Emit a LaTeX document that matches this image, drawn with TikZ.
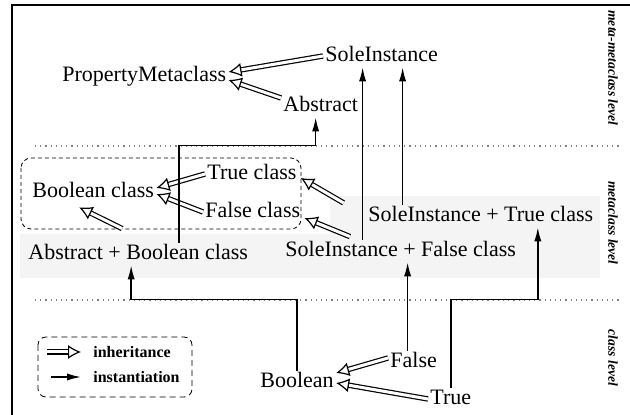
\documentclass[tikz,border=0pt]{standalone}
\usepackage{fontspec}
\setmainfont{Liberation Serif}
\usetikzlibrary{arrows.meta}

\begin{document}
\begin{tikzpicture}[x=0.5pt, y=-0.5pt,
		lbl/.style={inner sep=1pt, text height=7.5pt, text depth=1.5pt, font=\fontsize{11}{13}\selectfont, anchor=base west},
		lvl/.style={rotate=-90, font=\fontsize{6.8}{8}\selectfont\bfseries\itshape},
		leg/.style={anchor=west, inner sep=1pt, font=\fontsize{8}{10}\selectfont\bfseries},
		inh/.style={double, double distance=1.5pt, line width=0.6pt, -{Latex[open, length=6.5pt, width=7pt]}},
		inst/.style={line width=0.75pt, -{Latex[length=7pt, width=3.6pt]}},
		sep/.style={dotted, gray, line width=0.6pt}]
		\useasboundingbox ( 0, 0 ) rectangle ( 630, 415 );

		% фон, рамка и границы уровней
		\fill [gray!9] ( 20, 234 ) -- ( 330, 234 ) -- ( 330, 196 ) -- ( 600, 196 ) -- ( 600, 278 ) -- ( 20, 278 ) -- cycle;
		\draw [line width=0.8pt] ( 12, 415 ) -- ( 12, 5 ) -- ( 630, 5 );
		\draw [sep] ( 35, 146 ) -- ( 622, 146 );
		\draw [sep] ( 35, 300 ) -- ( 622, 300 );
		\node [lvl] (lvlmeta) at ( 613, 68 ) {meta-metaclass level};
		\node [lvl] (lvlclass) at ( 613, 223 ) {metaclass level};
		\node [lvl] (lvlobj) at ( 613, 358 ) {class level};

		% уровень метаметаклассов
		\node [lbl] (soleinst) at ( 323, 62 ) {SoleInstance};
		\node [lbl] (propmeta) at ( 60, 82 ) {PropertyMetaclass};
		\node [lbl] (abstract) at ( 281, 112 ) {Abstract};
		\draw [inh] (soleinst.west) -- ([yshift=2pt]propmeta.east);
		\draw [inh] ([yshift=4pt]abstract.west) -- ([yshift=-2pt]propmeta.east);

		% уровень метаклассов
		\draw [dash pattern=on 2pt off 1.5pt, rounded corners=5pt] ( 21, 158 ) rectangle ( 301, 229 );
		\node [lbl] (boolclass) at ( 30, 198 ) {Boolean class};
		\node [lbl] (trueclass) at ( 205, 180 ) {True class};
		\node [lbl] (falseclass) at ( 203, 218 ) {False class};
		\node [lbl] (absbool) at ( 26, 260 ) {Abstract + Boolean class};
		\node [lbl] (solefalse) at ( 283, 257 ) {SoleInstance + False class};
		\node [lbl] (soletrue) at ( 366, 222 ) {SoleInstance + True class};
		\draw [inh] (trueclass.west) -- ([yshift=2pt]boolclass.east);
		\draw [inh] (falseclass.west) -- ([yshift=-1pt]boolclass.east);
		\draw [inh] ([shift={(-8pt,7pt)}]absbool.north) -- ([shift={(-7pt,-2pt)}]boolclass.south);
		\draw [inh, shorten <=13pt] (soletrue.west) -- ([shift={(1pt,-2pt)}]trueclass.east);
		\draw [inh] ([shift={(33.5pt,1.5pt)}]solefalse.north west) -- ([shift={(1pt,-3pt)}]falseclass.east);
		\draw [inst] ([xshift=-9.5pt]soleinst.south |- solefalse.north) -- ([xshift=-9.5pt]soleinst.south);
		\draw [inst] ([xshift=10.5pt]soleinst.south |- soletrue.north) -- ([xshift=10.5pt]soleinst.south);
		\draw [inst] ([xshift=20.5pt]absbool.north) -- ++( 0, -97 ) -| ([xshift=-2.5pt]abstract.south);

		% уровень классов
		\node [lbl] (boolobj) at ( 258, 388 ) {Boolean};
		\node [lbl] (falseobj) at ( 388, 368 ) {False};
		\node [lbl] (trueobj) at ( 428, 405 ) {True};
		\draw [inh] ([yshift=2pt]falseobj.west) -- ([yshift=4.5pt]boolobj.east);
		\draw [inh] (trueobj.west) -- ([yshift=-0.5pt]boolobj.east);
		\draw [inst] (boolobj.north) -- ++( 0, -71 ) -| ([xshift=-3.5pt]absbool.south);
		\draw [inst] ([xshift=-3pt]falseobj.north) -- ([xshift=-3pt]falseobj.north |- solefalse.south);
		\draw [inst] (trueobj.north) -- ++( 0, -88 ) -| ([xshift=28.5pt]soletrue.south);

		% легенда
		\draw [densely dashed, rounded corners=4pt] ( 38, 337 ) rectangle ( 192, 397 );
		\node [leg] (leginh) at ( 91, 352 ) {inheritance};
		\node [leg] (leginst) at ( 91, 377 ) {instantiation};
		\draw [inh] ([xshift=-22pt]leginh.west) -- ([xshift=-5pt]leginh.west);
		\draw [inst] ([xshift=-20pt]leginst.west) -- ([xshift=-5pt]leginst.west);
	\end{tikzpicture}
\end{document}
